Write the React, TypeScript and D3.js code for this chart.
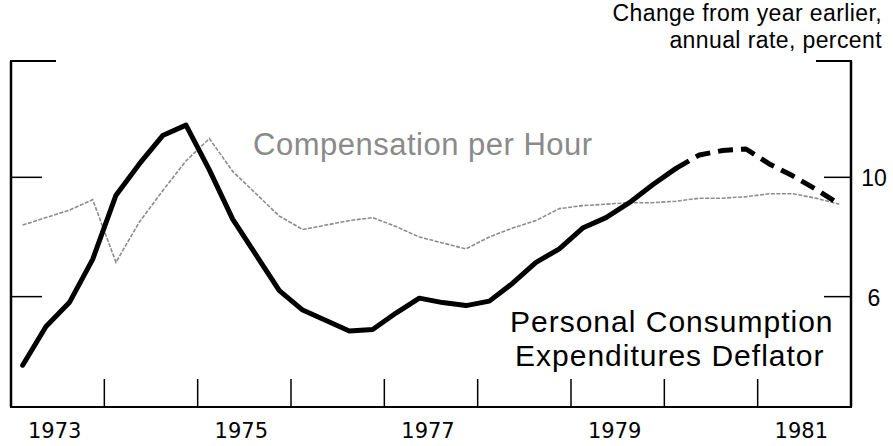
import React from 'react';
import * as d3 from 'd3';

// quarterly observations, 1973Q1 .. 1981Q4
const quarters = [
  '1973Q1', '1973Q2', '1973Q3', '1973Q4',
  '1974Q1', '1974Q2', '1974Q3', '1974Q4',
  '1975Q1', '1975Q2', '1975Q3', '1975Q4',
  '1976Q1', '1976Q2', '1976Q3', '1976Q4',
  '1977Q1', '1977Q2', '1977Q3', '1977Q4',
  '1978Q1', '1978Q2', '1978Q3', '1978Q4',
  '1979Q1', '1979Q2', '1979Q3', '1979Q4',
  '1980Q1', '1980Q2', '1980Q3', '1980Q4',
  '1981Q1', '1981Q2', '1981Q3', '1981Q4'
];

const pceDeflator = [
  3.7, 5.0, 5.8, 7.25,
  9.4, 10.45, 11.4, 11.75,
  10.25, 8.6, 7.4, 6.2,
  5.55, 5.2, 4.85, 4.9,
  5.45, 5.95, 5.8, 5.7,
  5.85, 6.45, 7.15, 7.6,
  8.3, 8.65, 9.15, 9.75,
  10.3, 10.75, 10.9, 10.95,
  10.45, 10.05, 9.6, 9.1
];

const compPerHour = [
  8.4, 8.65, 8.9, 9.25,
  7.15, 8.5, 9.55, 10.55,
  11.3, 10.2, 9.45, 8.7,
  8.25, 8.4, 8.55, 8.65,
  8.35, 8.0, 7.8, 7.6,
  8.0, 8.3, 8.55, 8.95,
  9.05, 9.1, 9.15, 9.15,
  9.2, 9.3, 9.3, 9.35,
  9.45, 9.45, 9.3, 9.1
];

// first quarter drawn dashed (projection)
const projectedFrom = '1980Q1';

const yTicks = [6, 10];
const yearTicks = [1974, 1975, 1976, 1977, 1978, 1979, 1980, 1981];
const yearLabels = [1973, 1975, 1977, 1979, 1981];

const W = 893;
const H = 446;

const toTime = (q: string) => +q.slice(0, 4) + (+q.slice(5) - 0.5) / 4;

const App = () => {
  const x = d3.scaleLinear().domain([1973, 1982]).range([11, 851]);
  const y = d3.scaleLinear().domain([2.3, 13.9]).range([407, 61]);

  const pce = quarters.map((q, i) => ({ t: toTime(q), v: pceDeflator[i] }));
  const comp = quarters.map((q, i) => ({ t: toTime(q), v: compPerHour[i] }));
  const split = quarters.indexOf(projectedFrom);

  const line = d3.line<{ t: number; v: number }>()
    .x(d => x(d.t))
    .y(d => y(d.v));

  const left = x(1973);
  const right = x(1982);
  const top = y(13.9);
  const bottom = y(2.3);

  return (
    <svg
      width={W}
      height={H}
      viewBox={`0 0 ${W} ${H}`}
      style={{ position: 'absolute', left: 0, top: 0, background: '#fff', fontFamily: "'Liberation Sans', Arial, sans-serif" }}
    >
      {/* Units note */}
      <text x={882} y={21} textAnchor="end" style={{ fontSize: '23px', letterSpacing: '0.4px' }}>Change from year earlier,</text>
      <text x={882} y={48} textAnchor="end" style={{ fontSize: '23px', letterSpacing: '0.4px' }}>annual rate, percent</text>

      {/* Frame */}
      <g stroke="#000" fill="none">
        <line x1={left} y1={top} x2={left} y2={bottom} strokeWidth={2.5} />
        <line x1={right} y1={top} x2={right} y2={bottom} strokeWidth={2.5} />
        <line x1={left - 1} y1={bottom} x2={right + 1} y2={bottom} strokeWidth={2} />
        <line x1={left - 1} y1={top} x2={left + 45} y2={top} strokeWidth={2} />
        <line x1={right - 35} y1={top} x2={right + 1} y2={top} strokeWidth={2} />
        {yTicks.map(t => (
          <g key={`yt-${t}`}>
            <line x1={left} y1={y(t)} x2={left + 31} y2={y(t)} strokeWidth={1.5} />
            <line x1={right - 27} y1={y(t)} x2={right} y2={y(t)} strokeWidth={1.5} />
          </g>
        ))}
        {yearTicks.map(t => (
          <line key={`xt-${t}`} x1={x(t)} y1={bottom - 28} x2={x(t)} y2={bottom} strokeWidth={1.5} />
        ))}
      </g>

      {/* Right axis labels */}
      {yTicks.map(t => (
        <text key={`yl-${t}`} x={874} y={y(t) + 9} textAnchor="middle" style={{ fontSize: '23px' }}>{t}</text>
      ))}

      {/* Year labels */}
      {yearLabels.map(t => (
        <text key={`xl-${t}`} x={x(t + 0.5) - 3} y={438} textAnchor="middle" style={{ fontFamily: "'DejaVu Sans', sans-serif", fontSize: '21px' }}>{t}</text>
      ))}

      {/* Compensation per hour */}
      <path d={line(comp) ?? ''} fill="none" stroke="#8c8c8c" strokeWidth={1.6} strokeDasharray="4,1.5" />

      {/* PCE deflator */}
      <path d={line(pce.slice(0, split + 1)) ?? ''} fill="none" stroke="#000" strokeWidth={5} strokeLinejoin="round" strokeLinecap="round" />
      <path d={line(pce.slice(split)) ?? ''} fill="none" stroke="#000" strokeWidth={5} strokeDasharray="15,8" strokeLinejoin="round" />

      {/* Series labels */}
      <text x={253} y={155} fill="#8a8a8a" style={{ fontSize: '31px', letterSpacing: '0.5px' }}>Compensation per Hour</text>
      <text x={510} y={332} style={{ fontSize: '30px', letterSpacing: '1px' }}>Personal Consumption</text>
      <text x={515} y={366} style={{ fontSize: '30px', letterSpacing: '1px' }}>Expenditures Deflator</text>
    </svg>
  );
};

export default App;
